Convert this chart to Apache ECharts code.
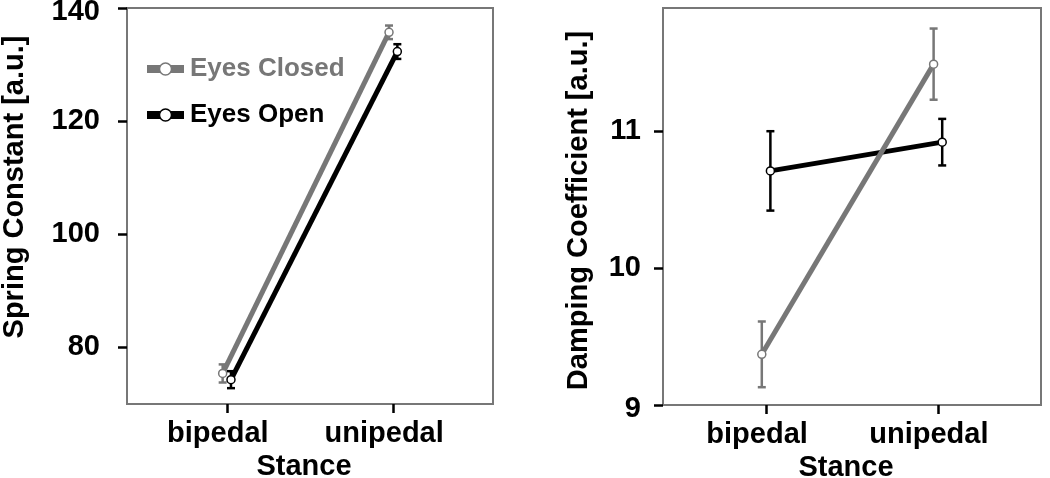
<!DOCTYPE html>
<html>
<head>
    <meta charset="utf-8"/>
    <title>Spring / Damping</title>
    <script src="https://cdn.jsdelivr.net/npm/echarts@6/dist/echarts.min.js"></script>
</head>
<body style="margin:0">
<div id="main" style="width: 1050px; height: 478px"></div>
<script type="text/javascript">
    // data
    var stance = ['bipedal', 'unipedal'];
    var springClosed = [75.4, 135.7];
    var springClosedErr = [1.6, 1.2];
    var springOpen = [74.3, 132.3];
    var springOpenErr = [1.5, 1.3];
    var dampClosed = [9.37, 11.49];
    var dampClosedErr = [0.24, 0.26];
    var dampOpen = [10.71, 10.92];
    var dampOpenErr = [0.29, 0.17];
    var springTicks = [80, 100, 120, 140];
    var dampTicks = [9, 10, 11];

    var dodge = 0.025;   // side-by-side shift of the two groups
    var GRAY = '#777777';
    var FONT = 'Liberation Sans';
    var FS = 29;

    function pts(vals, shift) {
        return vals.map(function (v, i) { return [i + 1 + shift, v]; });
    }
    function bars(vals, errs, shift) {
        return vals.map(function (v, i) { return [i + 1 + shift, v - errs[i], v + errs[i]]; });
    }

    function errRender(color) {
        return function (params, api) {
            var lo = api.coord([api.value(0), api.value(1)]);
            var hi = api.coord([api.value(0), api.value(2)]);
            var w = 4;
            var st = {stroke: color, lineWidth: 2.5};
            return {
                type: 'group',
                children: [
                    {type: 'line', shape: {x1: lo[0], y1: lo[1], x2: hi[0], y2: hi[1]}, style: st},
                    {type: 'line', shape: {x1: lo[0] - w, y1: lo[1], x2: lo[0] + w, y2: lo[1]}, style: st},
                    {type: 'line', shape: {x1: hi[0] - w, y1: hi[1], x2: hi[0] + w, y2: hi[1]}, style: st}
                ]
            };
        };
    }

    function xAxis(idx) {
        return {
            type: 'value', gridIndex: idx, min: 0.4, max: 2.6,
            name: 'Stance', nameLocation: 'middle', nameGap: 47,
            nameTextStyle: {fontFamily: FONT, fontWeight: 'bold', fontSize: FS, color: '#000', padding: [0, 12, 0, 0]},
            axisLine: {lineStyle: {color: GRAY, width: 2}},
            axisTick: {customValues: [1, 2], length: 9, lineStyle: {color: '#000', width: 2.5}},
            axisLabel: {
                customValues: [1, 2], margin: 15,
                fontFamily: FONT, fontWeight: 'bold', fontSize: FS, color: '#000',
                padding: [0, 18, 0, 0],
                formatter: function (v) { return stance[Math.round(v) - 1]; }
            },
            splitLine: {show: false}
        };
    }

    function yAxis(idx, name, min, max, ticks, gap, pad, labelMargin) {
        var top = ticks[ticks.length - 1], bottom = ticks[0];
        return {
            type: 'value', gridIndex: idx, min: min, max: max,
            name: name, nameLocation: 'middle', nameGap: gap,
            nameTextStyle: {fontFamily: FONT, fontWeight: 'bold', fontSize: FS, color: '#000', padding: pad},
            axisLine: {show: true, lineStyle: {color: GRAY, width: 2}},
            axisTick: {customValues: ticks, length: 9, lineStyle: {color: '#000', width: 2.5}},
            axisLabel: {
                customValues: ticks, margin: labelMargin, fontFamily: FONT, fontWeight: 'bold', fontSize: FS, color: '#000',
                // labels at the very top/bottom edge sit a little lower, like the original
                formatter: function (v) {
                    if (v === top && top === max) return '{low|' + v + '}';
                    if (v === bottom && bottom === min) return '{low|' + v + '}';
                    return String(v);
                },
                rich: {low: {fontFamily: FONT, fontWeight: 'bold', fontSize: FS, color: '#000', padding: [8, 0, 0, 0]}}
            },
            splitLine: {show: false}
        };
    }

    function lineSeries(name, idx, data, color) {
        return {
            name: name, type: 'line', xAxisIndex: idx, yAxisIndex: idx,
            data: data, z: 3,
            lineStyle: {color: color, width: 5},
            itemStyle: {color: '#fff', borderColor: color, borderWidth: 1.5},
            symbol: 'circle', symbolSize: 8, showSymbol: true,
            emphasis: {disabled: true}
        };
    }

    function errSeries(idx, data, color) {
        return {
            type: 'custom', xAxisIndex: idx, yAxisIndex: idx,
            data: data, z: 2, silent: true,
            renderItem: errRender(color)
        };
    }

    var myChart = echarts.init(document.getElementById('main'));
    var option = {
        animation: false,
        backgroundColor: '#fff',
        grid: [
            {left: 127, right: 557, top: 8, bottom: 74, show: true, borderColor: GRAY, borderWidth: 2, outerBoundsMode: 'none'},
            {left: 663, right: 9, top: 8, bottom: 73, show: true, borderColor: GRAY, borderWidth: 2, outerBoundsMode: 'none'}
        ],
        legend: {
            orient: 'vertical', left: 143, top: 54, padding: 0,
            itemWidth: 37, itemHeight: 15, itemGap: 16,
            lineStyle: {width: 8},
            itemStyle: {borderWidth: 1.5},
            textStyle: {fontFamily: FONT, fontWeight: 'bold', fontSize: 26, lineHeight: 30, padding: [0, 0, 0, 1]},
            data: [
                {name: 'Eyes Closed', textStyle: {color: GRAY}},
                {name: 'Eyes Open', textStyle: {color: '#000'}}
            ]
        },
        xAxis: [xAxis(0), xAxis(1)],
        yAxis: [
            yAxis(0, 'Spring Constant [a.u.]', 70, 140, springTicks, 98, [0, 0, 0, 38], 27),
            yAxis(1, 'Damping Coefficient [a.u.]', 9, 11.9, dampTicks, 70, [0, 8, 0, 0], 22)
        ],
        series: [
            errSeries(0, bars(springOpen, springOpenErr, dodge), '#000'),
            errSeries(0, bars(springClosed, springClosedErr, -dodge), GRAY),
            lineSeries('Eyes Open', 0, pts(springOpen, dodge), '#000'),
            lineSeries('Eyes Closed', 0, pts(springClosed, -dodge), GRAY),
            errSeries(1, bars(dampOpen, dampOpenErr, dodge), '#000'),
            errSeries(1, bars(dampClosed, dampClosedErr, -dodge), GRAY),
            lineSeries('Eyes Open', 1, pts(dampOpen, dodge), '#000'),
            lineSeries('Eyes Closed', 1, pts(dampClosed, -dodge), GRAY)
        ]
    };
    myChart.setOption(option);
</script>
</body>
</html>
